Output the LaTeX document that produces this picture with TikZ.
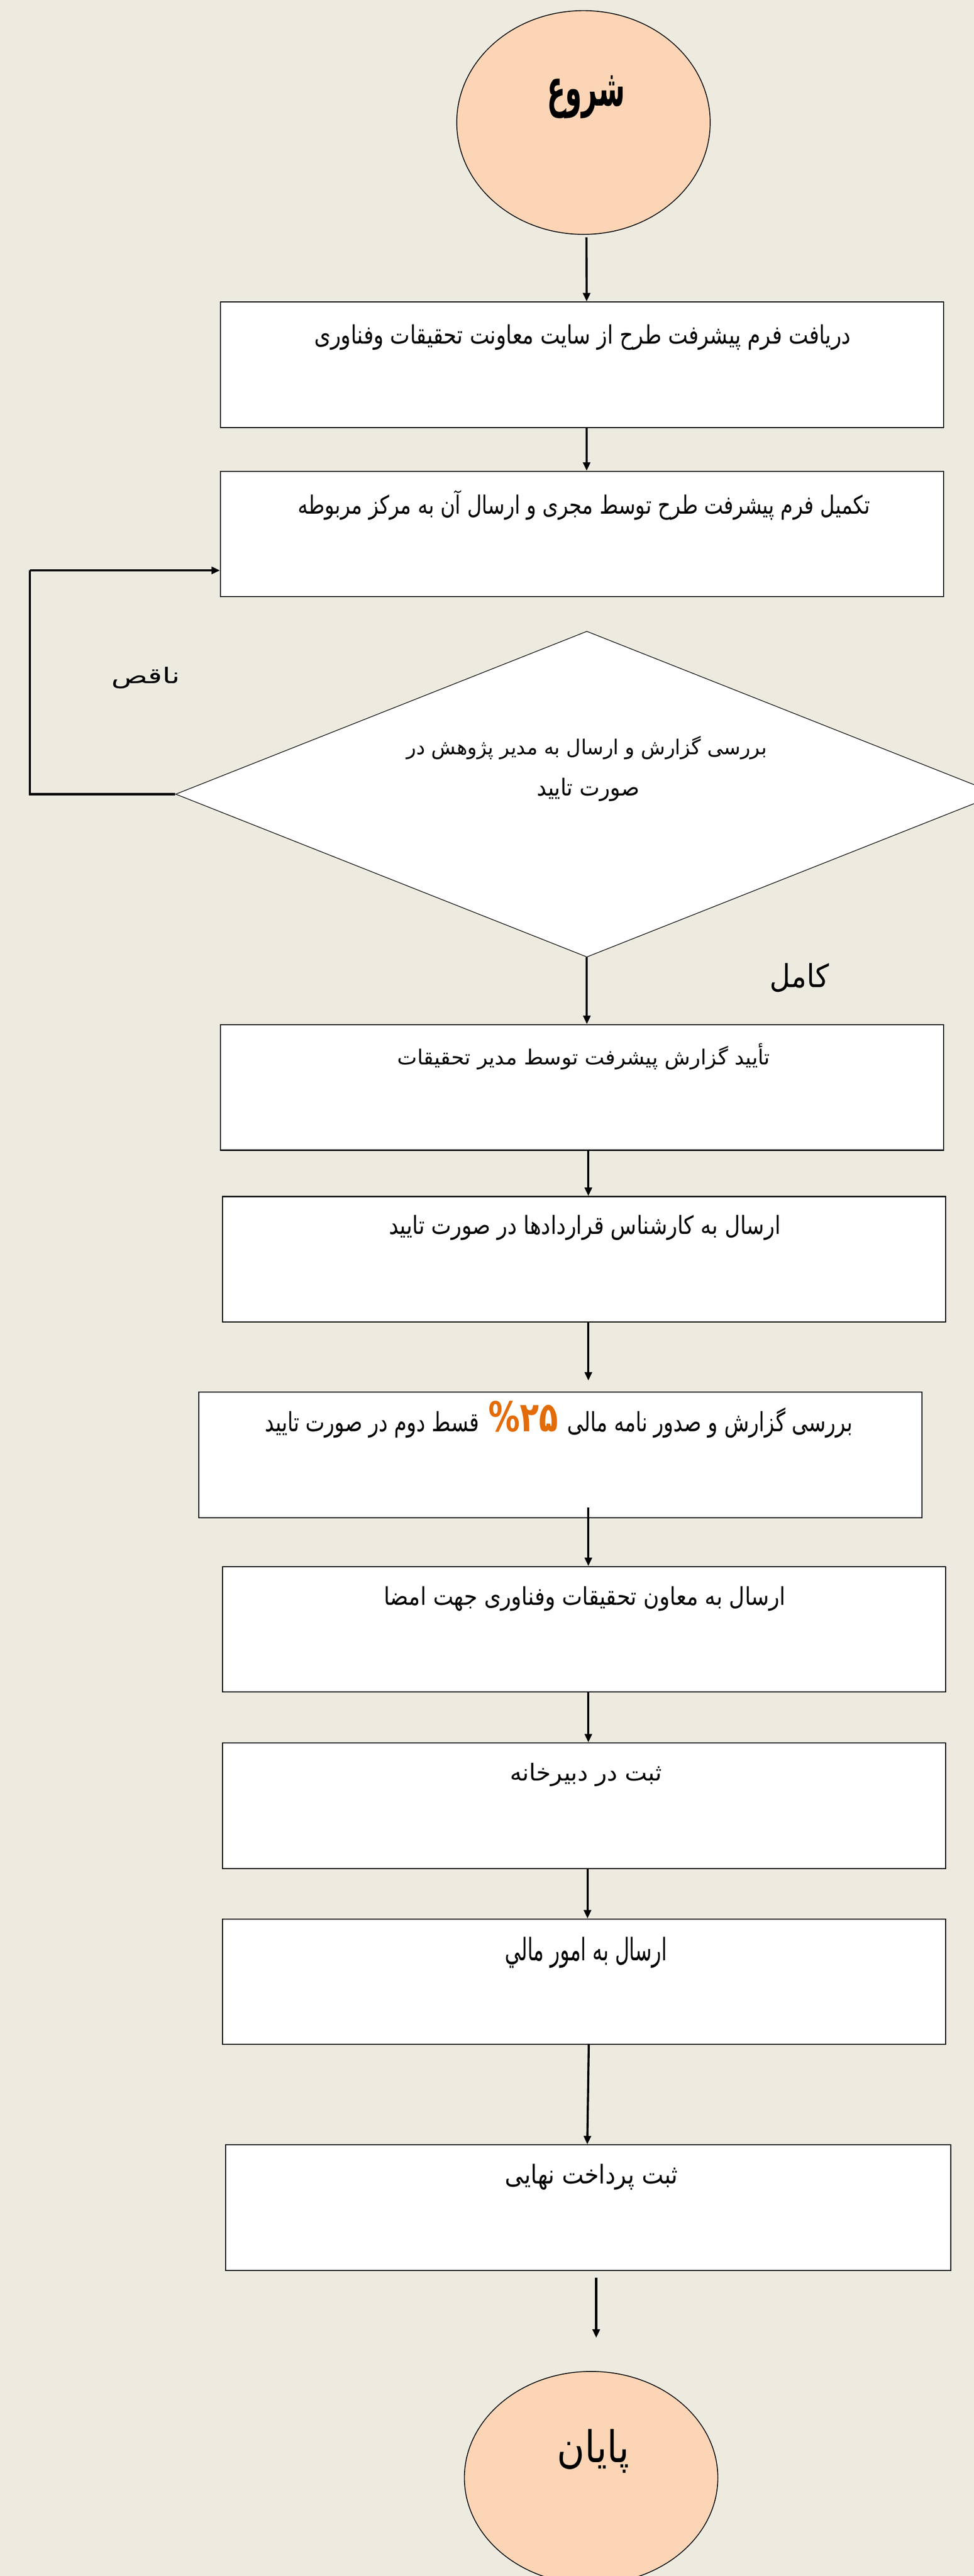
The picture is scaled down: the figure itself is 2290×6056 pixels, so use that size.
\documentclass[tikz,border=0pt]{standalone}
\usepackage{fontspec}
\usepackage{graphicx}
\usetikzlibrary{shapes.geometric,arrows.meta}
\TeXXeTstate=1
\newfontfamily\fa[Script=Arabic]{DejaVu Sans}
\definecolor{bg}{HTML}{EDEBE0}
\definecolor{peach}{HTML}{FBD5B5}
\definecolor{orng}{HTML}{E36C09}
\newcommand{\fatxt}[3]{\resizebox*{#1}{#2}{\fontsize{40pt}{48pt}\fa #3}}
\newcommand{\fatxtb}[3]{\resizebox*{#1}{#2}{\fontsize{40pt}{48pt}\fa\bfseries #3}}
\tikzset{
  stepbox/.style={draw=black, line width=2.5pt, fill=white, minimum width=1700pt, minimum height=295pt, inner sep=0pt},
  endpt/.style={ellipse, draw=black, line width=2pt, fill=peach, inner sep=0pt, minimum width=596pt},
  txt/.style={inner sep=0pt},
  arr/.style={line width=5pt, -{Triangle[length=20pt,width=17pt]}},
}
\begin{document}
\begin{tikzpicture}[x=1pt,y=-1pt]
\useasboundingbox (0,0) rectangle (2290,6056);
\fill[bg] (0,0) rectangle (2290,6056);

% start
\node[endpt, minimum height=526pt] (st) at (1372,288) {};
\node[txt] (tst) at (1378,228) {\fatxtb{183pt}{101pt}{\beginR شروع\endR}};

% boxes
\node[stepbox] (b1) at (1368.5,857.5) {};
\node[txt] (t1) at (1370,793) {\fatxt{1261pt}{60pt}{\beginR دریافت فرم پیشرفت طرح از سایت معاونت تحقیقات وفناوری\endR}};

\node[stepbox] (b2) at (1368.5,1255.5) {};
\node[txt] (t2) at (1373,1187) {\fatxt{1345pt}{70pt}{\beginR تکمیل فرم پیشرفت طرح توسط مجری و ارسال آن به مرکز مربوطه\endR}};

% decision
\node[diamond, draw=black, line width=1.5pt, fill=white, minimum width=1934pt, minimum height=766pt, inner sep=0pt] (d) at (1380,1867) {};
\node[txt] (td1) at (1380,1758) {\fatxt{847pt}{55pt}{\beginR بررسی گزارش و ارسال به مدیر پژوهش در\endR}};
\node[txt] (td2) at (1383,1857) {\fatxt{241pt}{55pt}{\beginR صورت تایید\endR}};

\node[txt] (lnq) at (343,1593) {\fatxt{161pt}{51pt}{\beginR ناقص\endR}};
\node[txt] (lkm) at (1880,2299) {\fatxt{139pt}{68pt}{\beginR کامل\endR}};

\node[stepbox] (b3) at (1368.5,2556.5) {};
\node[txt] (t3) at (1373,2484) {\fatxt{876pt}{62pt}{\beginR تأیید گزارش پیشرفت  توسط مدیر تحقیقات\endR}};

\node[stepbox] (b4) at (1373.5,2960.5) {};
\node[txt] (t4) at (1375,2886) {\fatxt{921pt}{59pt}{\beginR ارسال به کارشناس قراردادها  در صورت تایید\endR}};

\node[stepbox] (b5) at (1318,3420.5) {};
\node[txt] (t5) at (1314,3337) {\resizebox*{1381pt}{87pt}{\fontsize{40pt}{48pt}\fa\hbox{\beginR قسط دوم  در صورت تایید\endR}\hspace{0.45em}\hbox{\textcolor{orng}{\bfseries\fontsize{62pt}{62pt}\selectfont\%۲۵}}\hspace{0.45em}\hbox{\beginR بررسی گزارش و صدور نامه مالی\endR}}};

\node[stepbox] (b6) at (1373.5,3830.5) {};
\node[txt] (t6) at (1375,3758) {\fatxt{945pt}{58pt}{\beginR ارسال به معاون تحقیقات وفناوری جهت امضا\endR}};

\node[stepbox] (b7) at (1373.5,4245) {};
\node[txt] (t7) at (1378,4172) {\fatxt{357pt}{55pt}{\beginR ثبت در دبیرخانه\endR}};

\node[stepbox] (b8) at (1373.5,4659) {};
\node[txt] (t8) at (1378,4590) {\fatxt{381pt}{73pt}{\beginR ارسال به امور مالي\endR}};

\node[stepbox, minimum width=1706pt] (b9) at (1383,5190) {};
\node[txt] (t9) at (1391,5118) {\fatxt{406pt}{61pt}{\beginR ثبت پرداخت نهایی\endR}};

% end
\node[endpt, minimum height=500pt] (en) at (1390,5825) {};
\node[txt] (ten) at (1395,5762) {\fatxt{169pt}{103pt}{\beginR پایان\endR}};

% connectors
\draw[arr] ([xshift=7pt,yshift=-6pt]st.south) -- ([xshift=11pt]b1.north);
\draw[arr] ([xshift=11pt]b1.south) -- ([xshift=11pt]b2.north);
\coordinate (lp) at (70,1341);
\draw[line width=5pt] (d.west) -| (lp);
\draw[arr] (lp) -- (lp -| b2.west);
\draw[arr] (d.south) -- (d.south |- b3.north);
\draw[arr] ([xshift=15pt]b3.south) -- ([xshift=10pt]b4.north);
\draw[arr] ([xshift=10pt]b4.south) -- ([xshift=10pt,yshift=26pt]b4.south |- b5.north);
\draw[arr] ([xshift=10pt,yshift=25pt]b4.south |- b5.south) -- ([xshift=10pt]b6.north);
\draw[arr] ([xshift=10pt]b6.south) -- ([xshift=10pt]b7.north);
\draw[arr] ([xshift=8pt]b7.south) -- ([xshift=8pt]b8.north);
\draw[arr] ([xshift=11pt,yshift=3pt]b8.south) -- ([xshift=-2pt]b9.north);
\draw[arr] ([xshift=19pt,yshift=-16pt]b9.south) -- ([xshift=12pt,yshift=78pt]en.north);
\end{tikzpicture}
\end{document}
